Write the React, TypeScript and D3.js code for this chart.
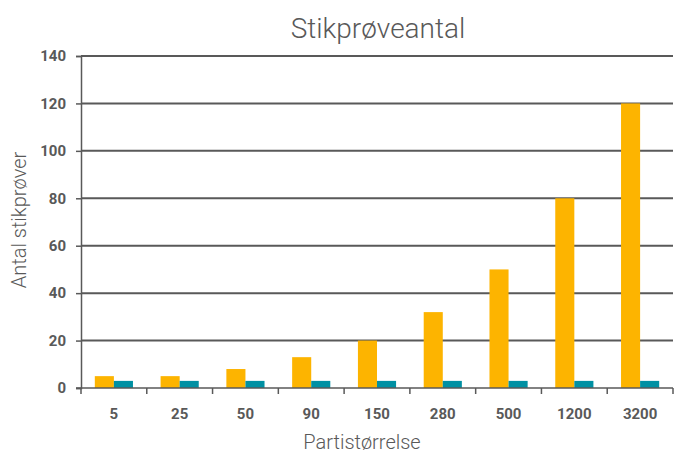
import React, { useEffect, useRef } from 'react';
import * as d3 from 'd3';

const categories = ['5', '25', '50', '90', '150', '280', '500', '1200', '3200'];
const orangeValues = [5, 5, 8, 13, 20, 32, 50, 80, 120];
const tealValues = [3, 3, 3, 3, 3, 3, 3, 3, 3];
const yTicks = [0, 20, 40, 60, 80, 100, 120, 140];

const W = 674;
const H = 454;

export default function App() {
  const svgRef = useRef<SVGSVGElement>(null);

  useEffect(() => {
    const svg = d3.select(svgRef.current);
    svg.selectAll('*').remove();

    const margin = { top: 56, right: 1, bottom: 66, left: 81 };
    const width = W - margin.left - margin.right;
    const height = H - margin.top - margin.bottom;

    const x = d3.scaleBand().domain(categories).range([0, width]);
    const y = d3.scaleLinear().domain([0, 140]).range([height, 0]);
    const barW = x.bandwidth() * 0.29;

    const g = svg.append('g').attr('transform', `translate(${margin.left},${margin.top})`);

    // gridlines
    g.selectAll('.grid')
      .data(yTicks.filter((t) => t > 0))
      .enter()
      .append('line')
      .attr('x1', 0)
      .attr('x2', width)
      .attr('y1', (d) => y(d))
      .attr('y2', (d) => y(d))
      .attr('stroke', '#595959')
      .attr('stroke-width', 2);

    // bars
    const groups = g.selectAll('.grp')
      .data(categories)
      .enter()
      .append('g')
      .attr('transform', (d) => `translate(${x(d)! + x.bandwidth() / 2},0)`);

    groups.append('rect')
      .attr('x', -barW)
      .attr('width', barW)
      .attr('y', (_, i) => y(orangeValues[i]))
      .attr('height', (_, i) => height - y(orangeValues[i]))
      .attr('fill', '#FDB400');

    groups.append('rect')
      .attr('x', 0)
      .attr('width', barW)
      .attr('y', (_, i) => y(tealValues[i]))
      .attr('height', (_, i) => height - y(tealValues[i]))
      .attr('fill', '#0090A3');

    // y axis
    const yAxis = g.append('g')
      .call(d3.axisLeft(y).tickValues(yTicks).tickSize(5).tickPadding(10));
    yAxis.select('.domain').attr('stroke', '#595959').attr('stroke-width', 1.5);
    yAxis.selectAll('.tick line').attr('stroke', '#595959').attr('stroke-width', 1.5);
    yAxis.selectAll('text')
      .attr('fill', '#595959')
      .style('font-family', 'Roboto, sans-serif')
      .style('font-weight', 'bold')
      .style('font-size', '15px');

    // x axis
    const xAxis = g.append('g')
      .attr('transform', `translate(0,${height})`)
      .call(d3.axisBottom(x).tickSize(0).tickPadding(20));
    xAxis.select('.domain').remove();
    g.append('line')
      .attr('x1', -5)
      .attr('x2', width)
      .attr('y1', height)
      .attr('y2', height)
      .attr('stroke', '#595959')
      .attr('stroke-width', 1.5);
    g.selectAll('.xtick')
      .data(d3.range(categories.length + 1))
      .enter()
      .append('line')
      .attr('x1', (i) => i * x.step())
      .attr('x2', (i) => i * x.step())
      .attr('y1', height)
      .attr('y2', height + 6)
      .attr('stroke', '#595959')
      .attr('stroke-width', 1.5);
    xAxis.selectAll('text')
      .attr('fill', '#595959')
      .style('font-family', 'Roboto, sans-serif')
      .style('font-weight', 'bold')
      .style('font-size', '15px');

    // titles
    svg.append('text')
      .attr('x', 378)
      .attr('y', 38)
      .attr('text-anchor', 'middle')
      .attr('fill', '#595959')
      .style('font-family', 'Roboto, sans-serif')
      .style('font-weight', 300)
      .style('font-size', '28px')
      .text('Stikprøveantal');

    svg.append('text')
      .attr('x', margin.left + width / 2 - 15)
      .attr('y', 449)
      .attr('text-anchor', 'middle')
      .attr('fill', '#595959')
      .style('font-family', 'Roboto, sans-serif')
      .style('font-weight', 300)
      .style('font-size', '20px')
      .text('Partistørrelse');

    svg.append('text')
      .attr('transform', `translate(26,${margin.top + height / 2 - 2}) rotate(-90)`)
      .attr('text-anchor', 'middle')
      .attr('fill', '#595959')
      .style('font-family', 'Roboto, sans-serif')
      .style('font-weight', 300)
      .style('font-size', '20px')
      .text('Antal stikprøver');
  }, []);

  return (
    <svg
      ref={svgRef}
      width={W}
      height={H}
      style={{ position: 'absolute', left: 0, top: 0, background: '#fff' }}
    />
  );
}
